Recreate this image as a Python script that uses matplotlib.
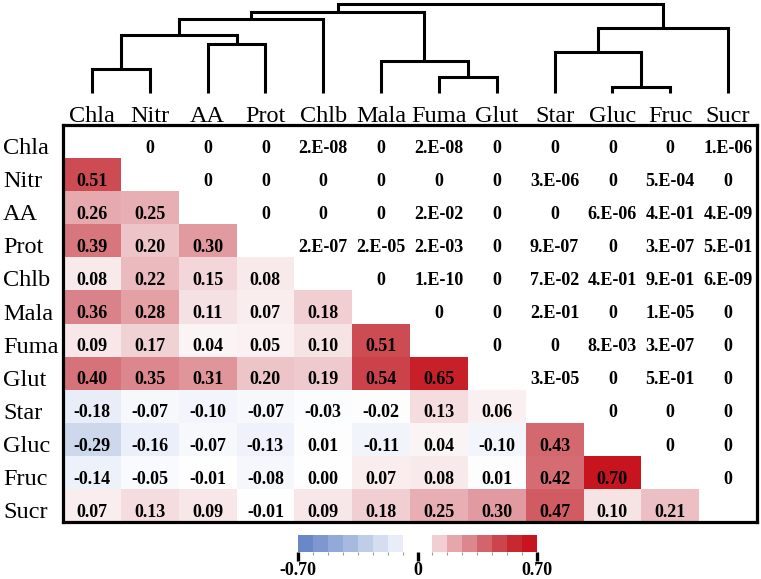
import numpy as np
import matplotlib
matplotlib.use("Agg")
import matplotlib.pyplot as plt
import matplotlib.transforms as mtransforms
from matplotlib.colors import LinearSegmentedColormap

plt.rcParams['font.family'] = ['Liberation Serif', 'DejaVu Serif']

labels = ['Chla', 'Nitr', 'AA', 'Prot', 'Chlb', 'Mala', 'Fuma', 'Glut',
          'Star', 'Gluc', 'Fruc', 'Sucr']

# lower triangle: correlation coefficients (row i, columns 0..i-1)
corr_rows = [
    [],
    [0.51],
    [0.26, 0.25],
    [0.39, 0.20, 0.30],
    [0.08, 0.22, 0.15, 0.08],
    [0.36, 0.28, 0.11, 0.07, 0.18],
    [0.09, 0.17, 0.04, 0.05, 0.10, 0.51],
    [0.40, 0.35, 0.31, 0.20, 0.19, 0.54, 0.65],
    [-0.18, -0.07, -0.10, -0.07, -0.03, -0.02, 0.13, 0.06],
    [-0.29, -0.16, -0.07, -0.13, 0.01, -0.11, 0.04, -0.10, 0.43],
    [-0.14, -0.05, -0.01, -0.08, 0.00, 0.07, 0.08, 0.01, 0.42, 0.70],
    [0.07, 0.13, 0.09, -0.01, 0.09, 0.18, 0.25, 0.30, 0.47, 0.10, 0.21],
]

# upper triangle: p-values as printed (row i, columns i+1..)
p_rows = [
    ['0', '0', '0', '2.E-08', '0', '2.E-08', '0', '0', '0', '0', '1.E-06'],
    ['0', '0', '0', '0', '0', '0', '3.E-06', '0', '5.E-04', '0'],
    ['0', '0', '0', '2.E-02', '0', '0', '6.E-06', '4.E-01', '4.E-09'],
    ['2.E-07', '2.E-05', '2.E-03', '0', '9.E-07', '0', '3.E-07', '5.E-01'],
    ['0', '1.E-10', '0', '7.E-02', '4.E-01', '9.E-01', '6.E-09'],
    ['0', '0', '2.E-01', '0', '1.E-05', '0'],
    ['0', '0', '8.E-03', '3.E-07', '0'],
    ['3.E-05', '0', '5.E-01', '0'],
    ['0', '0', '0'],
    ['0', '0'],
    ['0'],
    [],
]

# dendrogram merges: (left id, right id, height); ids >= 12 are earlier merges
merges = [
    (0, 1, 24), (2, 3, 49), (12, 13, 58), (14, 4, 74),
    (6, 7, 16), (5, 16, 32), (15, 17, 81),
    (9, 10, 6), (8, 19, 41), (20, 11, 65),
    (18, 21, 89),
]

vmax = 0.70
cbar_ticks = [-0.70, 0, 0.70]
cbar_ticklabels = ['-0.70', '0', '0.70']

anchors = [(-0.7, '#6b88c6'), (-0.6125, '#7e98cf'), (-0.525, '#93a9d7'),
           (-0.4375, '#a8badf'), (-0.35, '#bfcde8'), (-0.2625, '#d5def0'),
           (-0.175, '#e9eef8'), (0.0, '#ffffff'), (0.175, '#f0d0d3'),
           (0.2625, '#e5a8ad'), (0.35, '#db868c'), (0.4375, '#d3666d'),
           (0.525, '#cc474f'), (0.6125, '#c72a32'), (0.7, '#c8141e')]
cmap = LinearSegmentedColormap.from_list(
    'rb', [((v + vmax) / (2 * vmax), c) for v, c in anchors])

W, H = 761, 579
fig = plt.figure(figsize=(W / 100, H / 100), dpi=100)
n = len(labels)

# heatmap
ax = fig.add_axes([63 / W, 1 - 522 / H, 694 / W, 397 / H])
corr = np.full((n, n), np.nan)
for i, row in enumerate(corr_rows):
    corr[i, :len(row)] = row
ax.pcolormesh(np.arange(n + 1), np.arange(n + 1), np.ma.masked_invalid(corr),
              cmap=cmap, vmin=-vmax, vmax=vmax)
ax.set_xlim(0, n)
ax.set_ylim(n, 0)
ax.set_xticks([])
ax.set_yticks([])
for sp in ax.spines.values():
    sp.set_linewidth(2.3)

cell_font = dict(ha='center', va='baseline', fontsize=13, fontweight='bold')
for i, row in enumerate(corr_rows):
    for j, v in enumerate(row):
        ax.text(j + 0.5, i + 0.84, f'{v:.2f}', **cell_font)
for i, row in enumerate(p_rows):
    for k, s in enumerate(row):
        ax.text(i + 1 + k + 0.5, i + 0.84, s, **cell_font)

for j, lab in enumerate(labels):
    ax.text(j + 0.5, -0.1, lab, ha='center', va='baseline', fontsize=17.5)
row_tr = mtransforms.blended_transform_factory(fig.transFigure, ax.transData)
for i, lab in enumerate(labels):
    ax.text(3 / W, i + 0.88, lab, transform=row_tr, ha='left', va='baseline',
            fontsize=17.5)

# dendrogram
dax = fig.add_axes([63 / W, 1 - 93 / H, 694 / W, 93 / H])
dax.set_xlim(0, n)
dax.set_ylim(0, 93)
dax.axis('off')
pos = {i: (i + 0.5, 0) for i in range(n)}
for k, (a, b, h) in enumerate(merges):
    xa, ya = pos[a]
    xb, yb = pos[b]
    dax.plot([xa, xa, xb, xb], [ya, h, h, yb], color='black', lw=2.2,
             solid_joinstyle='miter', solid_capstyle='butt', clip_on=False)
    pos[n + k] = ((xa + xb) / 2, h)

# discrete colour bar
cax = fig.add_axes([298 / W, 1 - 552 / H, 239 / W, 17 / H])
edges = np.linspace(-vmax, vmax, 17)
for lo, hi in zip(edges[:-1], edges[1:]):
    mid = (lo + hi) / 2
    if abs(mid) < 0.0875:
        continue
    outer = lo if mid < 0 else hi
    cax.bar(lo, 1, width=hi - lo, align='edge',
            color=cmap((outer + vmax) / (2 * vmax)), linewidth=0)
cax.set_xlim(-vmax, vmax)
cax.set_ylim(0, 1)
for sp in cax.spines.values():
    sp.set_visible(False)
cax.set_yticks([])
cax.set_xticks(cbar_ticks)
cax.set_xticklabels(cbar_ticklabels, fontsize=13, fontweight='bold')
cax.set_xticks(edges, minor=True)
cax.tick_params(axis='x', which='major', length=6.5, width=2.4, pad=0.5)
cax.tick_params(axis='x', which='minor', length=2.2, width=0.8, color='#999999')

fig.savefig('out.png', dpi=100)
